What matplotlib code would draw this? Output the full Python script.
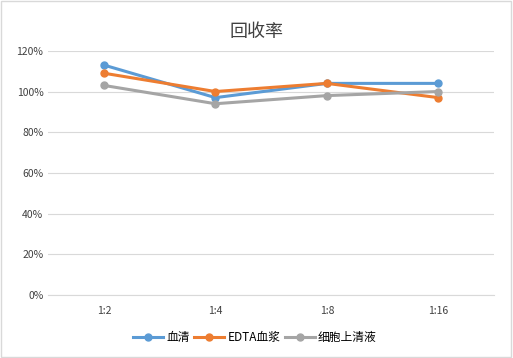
import matplotlib.pyplot as plt
from matplotlib.ticker import PercentFormatter

plt.rcParams['font.family'] = ['Noto Sans CJK SC', 'DejaVu Sans']

categories = ['1:2', '1:4', '1:8', '1:16']
serum = [113, 97, 104, 104]
edta = [109, 100, 104, 97]
cell_sup = [103, 94, 98, 100]
series_names = ['血清', 'EDTA血浆', '细胞上清液']

colors = ['#5B9BD5', '#ED7D31', '#A5A5A5']

fig = plt.figure(figsize=(5.13, 3.58), dpi=100)
ax = fig.add_axes([0.094, 0.176, 0.869, 0.682])

x = range(len(categories))
for vals, name, c in zip([serum, edta, cell_sup], series_names, colors):
    ax.plot(x, vals, color=c, lw=2.2, marker='o', markersize=5, label=name)

ax.set_xlim(-0.5, len(categories) - 0.5)
ax.set_ylim(0, 120)
ax.set_yticks(range(0, 121, 20))
ax.yaxis.set_major_formatter(PercentFormatter(decimals=0))
ax.set_xticks(list(x))
ax.set_xticklabels(categories)
ax.grid(axis='y', color='#D9D9D9', lw=0.8)
ax.set_axisbelow(True)
for s in ['top', 'right', 'left']:
    ax.spines[s].set_visible(False)
ax.spines['bottom'].set_color('#D9D9D9')
ax.tick_params(length=0, labelsize=7.5, colors='#404040')
ax.tick_params(axis='x', pad=8)

fig.text(0.5, 0.91, '回收率', ha='center', va='center', fontsize=13, color='#404040')
fig.legend(loc='center', bbox_to_anchor=(0.497, 0.058), ncol=3, frameon=False,
           fontsize=8.5, handlelength=2.5, columnspacing=0.4, handletextpad=0.3)

border = plt.Rectangle((0.002, 0.003), 0.995, 0.993, transform=fig.transFigure,
                       fill=False, edgecolor='#D9D9D9', lw=1)
fig.patches.append(border)

fig.savefig('out.png', dpi=100)
